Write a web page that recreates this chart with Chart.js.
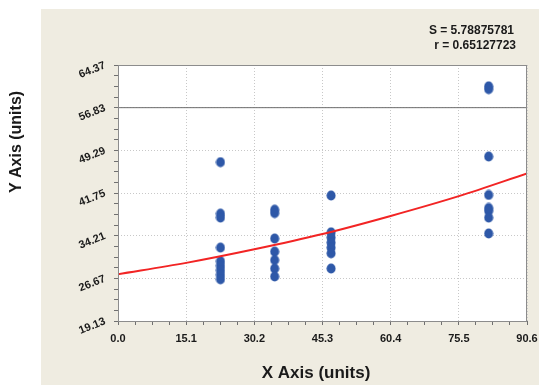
<!DOCTYPE html>
<html>
<head>
<meta charset="utf-8">
<script src="https://cdn.jsdelivr.net/npm/chart.js@4/dist/chart.umd.min.js"></script>
<style>
  html, body { margin: 0; padding: 0; background: #ffffff; }
  canvas { display: block; }
</style>
</head>
<body>
<canvas id="chart" width="539" height="385"></canvas>
<script>
const xTickLabels = ['0.0', '15.1', '30.2', '45.3', '60.4', '75.5', '90.6'];
const yTickLabels = ['19.13', '26.67', '34.21', '41.75', '49.29', '56.83', '64.37'];

// observations, one column per x setting
const obsX = [
  22.7, 22.7, 22.7, 22.7, 22.7, 22.7, 22.7, 22.7, 22.7,
  34.7, 34.7, 34.7, 34.7, 34.7, 34.7, 34.7,
  47.2, 47.2, 47.2, 47.2, 47.2, 47.2, 47.2,
  82.1, 82.1, 82.1, 82.1, 82.1, 82.1, 82.1, 82.1,
];
const obsY = [
  47.2, 38.1, 37.4, 32.1, 29.7, 28.9, 28.1, 27.3, 26.5,
  38.8, 38.2, 33.7, 31.4, 29.9, 28.4, 27.0,
  41.3, 34.8, 33.9, 33.0, 32.1, 31.1, 28.4,
  60.6, 60.1, 48.2, 41.4, 39.1, 38.6, 37.4, 34.6,
];

// fitted curve at the major x ticks
const fitX = [0, 15.1, 30.2, 45.3, 60.4, 75.5, 90.6];
const fitY = [27.4, 29.4, 31.8, 34.5, 37.7, 41.2, 45.2];

const limitX = [0, 90.6];
const limitY = [56.83, 56.83];

const statLines = ['S = 5.78875781', 'r = 0.65127723'];
const xTitle = 'X Axis (units)';
const yTitle = 'Y Axis (units)';

const toPoints = (xs, ys) => xs.map((x, i) => ({ x, y: ys[i] }));

const makeDot = () => {
  const c = document.createElement('canvas');
  c.width = 10;
  c.height = 11;
  const g = c.getContext('2d');
  g.fillStyle = '#2E58A8';
  g.beginPath();
  g.ellipse(5, 5.5, 4.5, 5.1, 0, 0, Math.PI * 2);
  g.fill();
  return c;
};

const BOLD = '"Liberation Sans", Arial, sans-serif';
const NARROW = '"Liberation Sans Narrow", "Liberation Sans", Arial, sans-serif';

const decorPlugin = {
  id: 'decor',
  beforeDraw(chart) {
    const { ctx, chartArea } = chart;
    ctx.save();
    ctx.fillStyle = '#EFECE1';
    ctx.fillRect(41, 9, 539 - 41, 385 - 9);
    ctx.fillStyle = '#FFFFFF';
    ctx.fillRect(chartArea.left, chartArea.top,
      chartArea.right - chartArea.left, chartArea.bottom - chartArea.top);
    ctx.restore();
  },
  afterDraw(chart) {
    const { ctx, chartArea } = chart;
    ctx.save();
    ctx.strokeStyle = '#8C8C8C';
    ctx.lineWidth = 1;
    ctx.strokeRect(chartArea.left + 0.5, chartArea.top + 0.5,
      chartArea.right - chartArea.left - 1, chartArea.bottom - chartArea.top);

    ctx.fillStyle = '#1A1A1A';
    ctx.font = 'bold 12px ' + NARROW;
    ctx.textAlign = 'right';
    ctx.textBaseline = 'middle';
    ctx.fillText(statLines[0], 514, 31);
    ctx.fillText(statLines[1], 516, 46);

    ctx.font = 'bold 17px ' + NARROW;
    ctx.textAlign = 'center';
    ctx.fillText(xTitle, 316, 373);

    ctx.translate(17, 142);
    ctx.rotate(-Math.PI / 2);
    ctx.font = 'bold 16px ' + BOLD;
    ctx.fillText(yTitle, 0, 0);
    ctx.restore();
  },
};

const isMajor = (ctx) => ctx.index % 4 === 0;

new Chart(document.getElementById('chart'), {
  type: 'scatter',
  data: {
    datasets: [
      {
        label: 'fit',
        type: 'line',
        data: toPoints(fitX, fitY),
        borderColor: '#F22424',
        borderWidth: 2,
        pointRadius: 0,
        cubicInterpolationMode: 'monotone',
        fill: false,
        order: 0,
      },
      {
        label: 'limit',
        type: 'line',
        data: toPoints(limitX, limitY),
        borderColor: '#6E6E6E',
        borderWidth: 1,
        pointRadius: 0,
        fill: false,
        order: 2,
      },
      {
        label: 'obs',
        data: toPoints(obsX, obsY),
        pointStyle: makeDot(),
        pointRadius: 5,
        order: 1,
      },
    ],
  },
  options: {
    responsive: false,
    animation: false,
    layout: { padding: { top: 65, right: 12, bottom: 0, left: 0 } },
    plugins: {
      legend: { display: false },
      tooltip: { enabled: false },
    },
    scales: {
      x: {
        type: 'linear',
        min: 0,
        max: 90.6,
        afterFit: (scale) => {
          scale.height = 64;
          scale.paddingLeft = 0;
          scale.paddingRight = 0;
        },
        border: { display: false, dash: [1, 2] },
        grid: {
          color: (ctx) => (isMajor(ctx) ? '#C8C8C8' : 'rgba(0,0,0,0)'),
          tickColor: '#707070',
          tickBorderDash: [],
          tickLength: 4,
        },
        ticks: {
          stepSize: 3.775,
          autoSkip: false,
          maxRotation: 0,
          padding: 7,
          color: '#1A1A1A',
          font: { family: BOLD, size: 11, weight: 'bold' },
          callback: (v, i) => (i % 4 === 0 ? xTickLabels[i / 4] : ''),
        },
      },
      y: {
        type: 'linear',
        min: 19.13,
        max: 64.37,
        afterFit: (scale) => { scale.width = 118; },
        border: { display: false, dash: [1, 2] },
        grid: {
          color: (ctx) => (isMajor(ctx) ? '#C8C8C8' : 'rgba(0,0,0,0)'),
          tickColor: '#707070',
          tickBorderDash: [],
          tickLength: 4,
        },
        ticks: {
          stepSize: 1.885,
          autoSkip: false,
          minRotation: 22,
          maxRotation: 22,
          padding: 9,
          color: '#1A1A1A',
          font: { family: BOLD, size: 11, weight: 'bold' },
          callback: (v, i) => (i % 4 === 0 ? yTickLabels[i / 4] : ''),
        },
      },
    },
  },
  plugins: [decorPlugin],
});
</script>
</body>
</html>
